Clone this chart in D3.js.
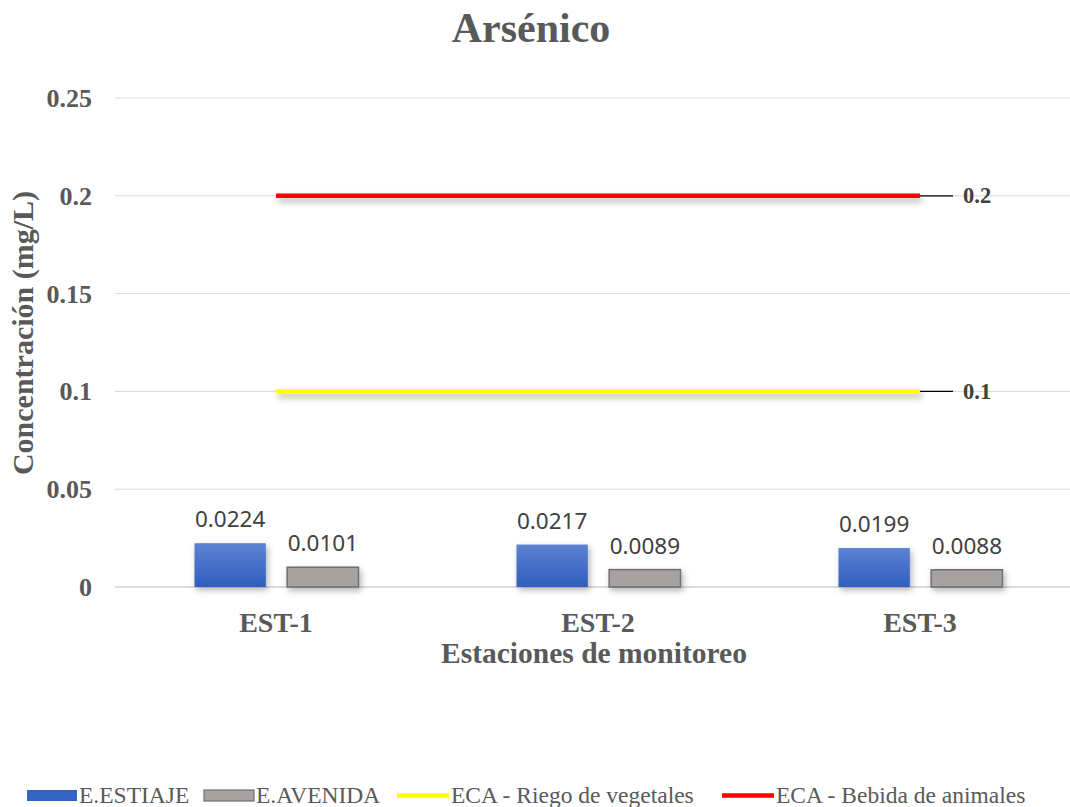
<!DOCTYPE html>
<html><head><meta charset="utf-8">
<script src="https://cdn.jsdelivr.net/npm/d3@7"></script>
<style>body{margin:0;background:#fff}svg{display:block}</style>
</head><body>
<script>
const categories = ["EST-1","EST-2","EST-3"];
const estiaje = [0.0224,0.0217,0.0199];
const avenida = [0.0101,0.0089,0.0088];
const ecaRiego = [0.1,0.1,0.1];
const ecaBebida = [0.2,0.2,0.2];
const yTicks = [0,0.05,0.1,0.15,0.2,0.25];
const seriesNames = ["E.ESTIAJE","E.AVENIDA","ECA - Riego de vegetales","ECA - Bebida de animales"];

const W=1070,H=807;
const svg=d3.select("body").append("svg").attr("width",W).attr("height",H);
const defs=svg.append("defs");
const g1=defs.append("linearGradient").attr("id","blueG").attr("x1",0).attr("y1",0).attr("x2",0).attr("y2",1);
g1.append("stop").attr("offset","0%").attr("stop-color","#5d82d2");
g1.append("stop").attr("offset","100%").attr("stop-color","#2f5ebf");
const f=defs.append("filter").attr("id","sh").attr("filterUnits","userSpaceOnUse").attr("x",0).attr("y",0).attr("width",W).attr("height",H);
f.append("feDropShadow").attr("dx",2).attr("dy",3).attr("stdDeviation",3).attr("flood-color","#000").attr("flood-opacity",0.3);
const f2=defs.append("filter").attr("id","shL").attr("filterUnits","userSpaceOnUse").attr("x",0).attr("y",0).attr("width",W).attr("height",H);
f2.append("feDropShadow").attr("dx",2).attr("dy",4).attr("stdDeviation",3).attr("flood-color","#000").attr("flood-opacity",0.3);

const serif="'Liberation Serif','Times New Roman',serif";
const x=d3.scaleBand().domain(categories).range([115,1081]);
const y=d3.scaleLinear().domain([0,0.25]).range([587,98]);
const inner=d3.scaleBand().domain(["e","a"]).range([x.bandwidth()/2-81.5,x.bandwidth()/2+82.5]).paddingInner(0.23);

// gridlines
svg.append("g").selectAll("line").data(yTicks).join("line")
 .attr("x1",115).attr("x2",1081).attr("y1",d=>y(d)).attr("y2",d=>y(d))
 .attr("stroke",d=>d===0?"#d0d0d0":"#d9d9d9").attr("stroke-width",d=>d===0?1.5:1);

// y axis labels
const yAxis=d3.axisLeft(y).tickValues(yTicks).tickFormat(d=>String(d)).tickSize(0).tickPadding(0);
const ya=svg.append("g").attr("transform","translate(92,0)").call(yAxis);
ya.select(".domain").remove();
ya.selectAll("text").attr("font-family",serif).attr("font-size",26).attr("font-weight","bold").attr("fill","#595959").attr("dy","0.33em");

// bars
const grp=svg.append("g").selectAll("g").data(categories).join("g").attr("transform",d=>`translate(${x(d)},0)`);
grp.append("rect").attr("x",inner("e")).attr("width",inner.bandwidth())
 .attr("y",(d,i)=>y(estiaje[i])).attr("height",(d,i)=>y(0)-y(estiaje[i]))
 .attr("fill","url(#blueG)").attr("filter","url(#sh)");
grp.append("rect").attr("x",inner("a")).attr("width",inner.bandwidth())
 .attr("y",(d,i)=>y(avenida[i])).attr("height",(d,i)=>y(0)-y(avenida[i]))
 .attr("fill","#a7a2a2").attr("stroke","#6f6f6f").attr("stroke-width",1.5).attr("filter","url(#sh)");
const lblFont="'Noto Sans','DejaVu Sans',sans-serif";
grp.append("text").attr("x",inner("e")+inner.bandwidth()/2).attr("y",(d,i)=>y(estiaje[i])-16)
 .attr("text-anchor","middle").attr("font-family",lblFont).attr("font-size",22.5).attr("fill","#404040")
 .text((d,i)=>estiaje[i].toFixed(4));
grp.append("text").attr("x",inner("a")+inner.bandwidth()/2).attr("y",(d,i)=>y(avenida[i])-16)
 .attr("text-anchor","middle").attr("font-family",lblFont).attr("font-size",22.5).attr("fill","#404040")
 .text((d,i)=>avenida[i].toFixed(4));

// ECA lines
const line=d3.line().x((d,i)=>x(categories[i])+x.bandwidth()/2).y(d=>y(d));
[[ecaRiego,"#ffff00"],[ecaBebida,"#ff0000"]].forEach(([arr,c])=>{
  svg.append("path").datum(arr).attr("d",line).attr("fill","none").attr("stroke",c).attr("stroke-width",4.5).attr("filter","url(#shL)");
  const lx=x(categories[2])+x.bandwidth()/2, ly=y(arr[2]);
  svg.append("line").attr("x1",lx).attr("x2",lx+33).attr("y1",ly).attr("y2",ly).attr("stroke","#000").attr("stroke-width",1.3);
  svg.append("text").attr("x",lx+43).attr("y",ly).attr("dy","0.33em").attr("font-family",serif).attr("font-size",22.5)
   .attr("font-weight","bold").attr("fill","#404040").text(String(arr[2]));
});

// x axis labels
const xa=svg.append("g").attr("transform","translate(0,587)").call(d3.axisBottom(x).tickSize(0).tickPadding(0));
xa.select(".domain").remove();
xa.selectAll("text").attr("y",45).attr("dy",0).attr("font-family",serif).attr("font-size",28).attr("font-weight","bold").attr("fill","#595959");

// titles
svg.append("text").attr("x",531).attr("y",42).attr("text-anchor","middle").attr("font-family",serif).attr("font-size",42).attr("font-weight","bold").attr("fill","#595959").text("Arsénico");
svg.append("text").attr("x",594).attr("y",663).attr("text-anchor","middle").attr("font-family",serif).attr("font-size",29.5).attr("font-weight","bold").attr("fill","#595959").text("Estaciones de monitoreo");
svg.append("text").attr("transform","translate(33,333) rotate(-90)").attr("text-anchor","middle").attr("font-family",serif).attr("font-size",30).attr("font-weight","bold").attr("fill","#595959").text("Concentración (mg/L)");

// legend
const leg=[{x:27,t:"rect",f:"#3563c4",s:null},{x:204,t:"rect",f:"#a7a2a2",s:"#6f6f6f"},{x:397,t:"line",f:"#ffff00"},{x:722,t:"line",f:"#ff0000"}];
const lg=svg.append("g");
leg.forEach((L,i)=>{
  if(L.t==="rect") lg.append("rect").attr("x",L.x).attr("y",790).attr("width",50).attr("height",11).attr("fill",L.f).attr("stroke",L.s||"none").attr("stroke-width",1.2);
  else lg.append("line").attr("x1",L.x).attr("x2",L.x+52).attr("y1",795.5).attr("y2",795.5).attr("stroke",L.f).attr("stroke-width",4.5);
  lg.append("text").attr("x",L.x+(L.t==="rect"?52:54)).attr("y",803).attr("font-family",serif).attr("font-size",23.5).attr("fill","#595959").text(seriesNames[i]);
});
</script>
</body></html>
